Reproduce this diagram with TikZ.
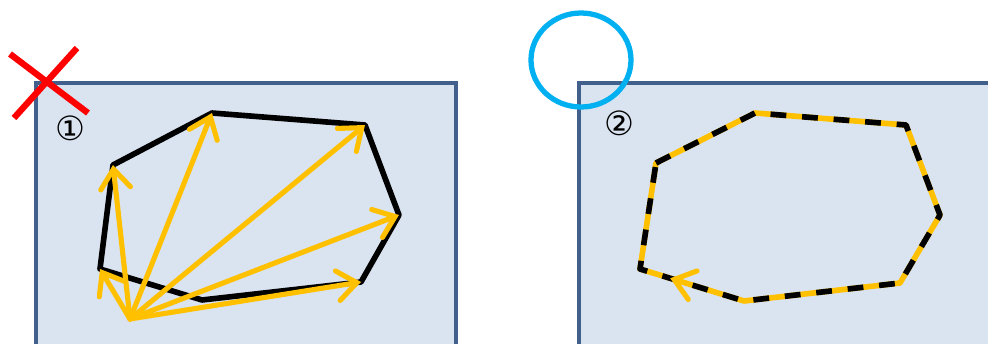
\documentclass[tikz,border=0pt]{standalone}
\usepackage{fontspec}
\newfontfamily\symfont{DejaVu Sans}
\usetikzlibrary{arrows.meta,decorations.markings}
\definecolor{panelfill}{RGB}{218,227,240}
\definecolor{paneledge}{RGB}{65,96,140}
\definecolor{vecyellow}{RGB}{255,192,0}
\definecolor{markcyan}{RGB}{0,176,240}
\begin{document}
\begin{tikzpicture}[x=0.02cm, y=-0.02cm,
  panel/.style={fill=panelfill, draw=paneledge, line width=2.4pt},
  hull/.style={line width=3.2pt, line join=round},
  vec/.style={vecyellow, line width=2.9pt, line cap=round,
    -{Straight Barb[length=11pt, width=17pt, line cap=round]}},
  num/.style={font=\symfont\fontsize{19}{22}\selectfont, inner sep=0pt}
]
\useasboundingbox (0,0) rectangle (988,344);
\clip (0,0) rectangle (988,344);
% panels
\draw[panel] (36,83) rectangle (456,400);
\draw[panel] (579,83) rectangle (1050,400);
% left hull
\coordinate (a) at (113,165);
\coordinate (b) at (212,113);
\coordinate (c) at (365,125);
\coordinate (d) at (399,215);
\coordinate (e) at (361,282);
\coordinate (f) at (202,300);
\coordinate (g) at (100,269);
\coordinate (o) at (130,319);
\draw[hull] (a) -- (b) -- (c) -- (d) -- (e) -- (f) -- (g) -- cycle;
\foreach \v in {g,a,b,c,d,e}
  \draw[vec] (o) -- (\v);
\node[num] (one) at (70,128) {①};
\draw[red, line width=3.6pt] (10,54) -- (88,113) (77,48) -- (14,118);
% right hull
\coordinate (a2) at (656,163);
\coordinate (b2) at (755,113);
\coordinate (c2) at (906,125);
\coordinate (d2) at (940,215);
\coordinate (e2) at (900,283);
\coordinate (f2) at (744,301);
\coordinate (g2) at (640,269);
\draw[hull, vecyellow] (a2) -- (b2) -- (c2) -- (d2) -- (e2) -- (f2) -- (g2) -- cycle;
\draw[hull, dash pattern=on 9pt off 9pt] (a2) -- (b2) -- (c2) -- (d2) -- (e2) -- (f2) -- (g2) -- cycle;
\path[postaction={decorate}, decoration={markings, mark=at position 0.71 with
  {\arrow[vecyellow, line width=2.9pt]{Straight Barb[length=11pt, width=17pt, line cap=round]}}}]
  (f2) -- (g2);
\node[num] (two) at (619,123) {②};
\draw[markcyan, line width=3pt] (581,60) ellipse [x radius=50, y radius=47];
\end{tikzpicture}
\end{document}
